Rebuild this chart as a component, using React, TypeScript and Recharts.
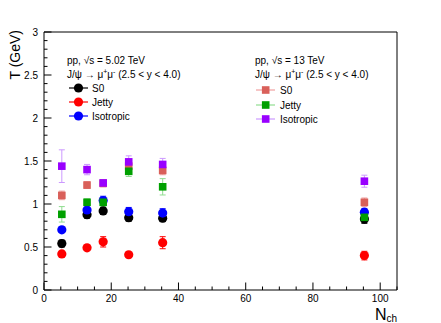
import { ScatterChart, Scatter, XAxis, YAxis, ErrorBar } from "recharts";

// Nch bins
const nch = [5.3, 12.8, 17.6, 25.2, 35.3, 95.3];

// pp 5.02 TeV
const s0_502 = [0.54, 0.875, 0.92, 0.84, 0.835, 0.825];
const s0_502Err = [0.04, 0.04, 0.04, 0.04, 0.04, 0.05];
const jetty_502 = [0.42, 0.49, 0.56, 0.41, 0.55, 0.4];
const jetty_502Err = [0.03, 0.03, 0.06, 0.02, 0.07, 0.05];
const iso_502 = [0.7, 0.93, 1.04, 0.91, 0.895, 0.905];
const iso_502Err = [0.03, 0.03, 0.05, 0.05, 0.05, 0.04];

// pp 13 TeV
const s0_13 = [1.1, 1.22, 1.24, 1.44, 1.39, 1.02];
const s0_13Err = [0.05, 0.04, 0.04, 0.05, 0.05, 0.05];
const jetty_13 = [0.88, 1.02, 1.02, 1.38, 1.2, 0.845];
const jetty_13Err = [0.09, 0.04, 0.05, 0.06, 0.095, 0.05];
const iso_13 = [1.44, 1.4, 1.245, 1.49, 1.46, 1.265];
const iso_13Err = [0.19, 0.06, 0.03, 0.07, 0.07, 0.07];

const xTicks = [0, 5, 10, 15, 20, 25, 30, 35, 40, 45, 50, 55, 60, 65, 70, 75, 80, 85, 90, 95, 100, 105];
const yTicks = [
  0, 0.1, 0.2, 0.3, 0.4, 0.5, 0.6, 0.7, 0.8, 0.9, 1, 1.1, 1.2, 1.3, 1.4, 1.5, 1.6, 1.7, 1.8, 1.9, 2,
  2.1, 2.2, 2.3, 2.4, 2.5, 2.6, 2.7, 2.8, 2.9, 3,
];

const FONT = "'Liberation Sans', Arial, Helvetica, sans-serif";

const toRows = (vals: number[], errs: number[]) =>
  nch.map((x, i) => ({ x, y: vals[i], err: errs[i] }));

const series = [
  { name: "S0", data: toRows(s0_502, s0_502Err), color: "#000000", errColor: "#000000", shape: "circle" },
  { name: "Jetty", data: toRows(jetty_502, jetty_502Err), color: "#ff0000", errColor: "#ff0000", shape: "circle" },
  { name: "Isotropic", data: toRows(iso_502, iso_502Err), color: "#0000ff", errColor: "#0000ff", shape: "circle" },
  { name: "S0", data: toRows(s0_13, s0_13Err), color: "#d9605a", errColor: "#f0a0a0", shape: "square" },
  { name: "Jetty", data: toRows(jetty_13, jetty_13Err), color: "#00a000", errColor: "#90dd90", shape: "square" },
  { name: "Isotropic", data: toRows(iso_13, iso_13Err), color: "#9900ff", errColor: "#cc99ff", shape: "square" },
];

const Marker = ({ cx, cy, color, shape }: any) =>
  shape === "circle" ? (
    <circle cx={cx} cy={cy} r={4.6} fill={color} />
  ) : (
    <rect x={cx - 3.8} y={cy - 3.8} width={7.6} height={7.6} fill={color} />
  );

const isMajorX = (v: number) => v % 20 === 0;
const isMajorY = (v: number) => Math.abs(v * 2 - Math.round(v * 2)) < 1e-6;

const BottomTick = ({ x, y, payload }: any) => {
  const major = isMajorX(payload.value);
  return (
    <g>
      <line x1={x} x2={x} y1={y} y2={y - (major ? 7.5 : 3.5)} stroke="#000" />
      {major && payload.value <= 100 && (
        <text x={x} y={y + 12} textAnchor="middle" fontSize={10} fontFamily={FONT} fill="#000">
          {payload.value}
        </text>
      )}
    </g>
  );
};

const TopTick = ({ x, y, payload }: any) => (
  <line x1={x} x2={x} y1={y} y2={y + (isMajorX(payload.value) ? 7.5 : 3.5)} stroke="#000" />
);

const LeftTick = ({ x, y, payload }: any) => {
  const major = isMajorY(payload.value);
  return (
    <g>
      <line x1={x} x2={x + (major ? 7.5 : 3.5)} y1={y} y2={y} stroke="#000" />
      {major && (
        <text x={x - 6} y={y + 3.5} textAnchor="end" fontSize={10} fontFamily={FONT} fill="#000">
          {payload.value}
        </text>
      )}
    </g>
  );
};

const RightTick = ({ x, y, payload }: any) => (
  <line x1={x} x2={x - (isMajorY(payload.value) ? 7.5 : 3.5)} y1={y} y2={y} stroke="#000" />
);

const LegendBlock = ({ x, y, title, items, lineX1, lineX2, markX, textX, rowY }: any) => (
  <g fontFamily={FONT} fontSize={10} fill="#000">
    <text x={x} y={y}>
      pp, √s = {title}
    </text>
    <text x={x} y={y + 14}>
      J/ψ → μ<tspan dy={-4} fontSize={7}>+</tspan>
      <tspan dy={4}>μ</tspan>
      <tspan dy={-4} fontSize={7}>-</tspan>
      <tspan dy={4}> (2.5 &lt; y &lt; 4.0)</tspan>
    </text>
    {items.map((s: any, i: number) => (
      <g key={i}>
        <line x1={lineX1} x2={lineX2} y1={rowY[i]} y2={rowY[i]} stroke={s.errColor} strokeWidth={1.2} />
        <Marker cx={markX} cy={rowY[i]} color={s.color} shape={s.shape} />
        <text x={textX} y={rowY[i] + 3.5}>
          {s.name}
        </text>
      </g>
    ))}
  </g>
);

export default function App() {
  return (
    <div style={{ position: "absolute", left: 0, top: 0, background: "#fff" }}>
      <ScatterChart width={441} height={323} margin={{ top: 31, right: 43, bottom: 32, left: 43 }}>
        <XAxis
          xAxisId="b"
          type="number"
          dataKey="x"
          domain={[0, 105]}
          ticks={xTicks}
          interval={0}
          height={1}
          tickSize={0}
          tickMargin={0}
          tick={<BottomTick />}
          tickLine={false}
          axisLine={{ stroke: "#000" }}
        />
        <XAxis
          xAxisId="t"
          orientation="top"
          type="number"
          dataKey="x"
          domain={[0, 105]}
          ticks={xTicks}
          interval={0}
          height={1}
          tickSize={0}
          tickMargin={0}
          tick={<TopTick />}
          tickLine={false}
          axisLine={{ stroke: "#000" }}
        />
        <YAxis
          yAxisId="l"
          type="number"
          dataKey="y"
          domain={[0, 3]}
          ticks={yTicks}
          interval={0}
          width={1}
          tickSize={0}
          tickMargin={0}
          tick={<LeftTick />}
          tickLine={false}
          axisLine={{ stroke: "#000" }}
        />
        <YAxis
          yAxisId="r"
          orientation="right"
          type="number"
          dataKey="y"
          domain={[0, 3]}
          ticks={yTicks}
          interval={0}
          width={1}
          tickSize={0}
          tickMargin={0}
          tick={<RightTick />}
          tickLine={false}
          axisLine={{ stroke: "#000" }}
        />
        {series.map((s, i) => (
          <Scatter
            key={i}
            xAxisId="b"
            yAxisId="l"
            data={s.data}
            isAnimationActive={false}
            shape={(p: any) => <Marker cx={p.cx} cy={p.cy} color={s.color} shape={s.shape} />}
          >
            <ErrorBar dataKey="err" direction="y" width={3} stroke={s.errColor} strokeWidth={1} />
          </Scatter>
        ))}
        <LegendBlock
          x={67}
          y={63.5}
          title="5.02 TeV"
          items={series.slice(0, 3)}
          lineX1={69}
          lineX2={88}
          markX={78.5}
          textX={92}
          rowY={[88, 102, 116]}
        />
        <LegendBlock
          x={255}
          y={64}
          title="13 TeV"
          items={series.slice(3)}
          lineX1={256}
          lineX2={275}
          markX={265.7}
          textX={280}
          rowY={[90, 105, 119]}
        />
        <text
          transform="translate(20,30) rotate(-90)"
          textAnchor="end"
          fontSize={14}
          fontFamily={FONT}
          fill="#000"
        >
          T (GeV)
        </text>
        <text x={397} y={320} textAnchor="end" fontSize={16} fontFamily={FONT} fill="#000">
          N<tspan dy={2} fontSize={10}>ch</tspan>
        </text>
      </ScatterChart>
    </div>
  );
}
